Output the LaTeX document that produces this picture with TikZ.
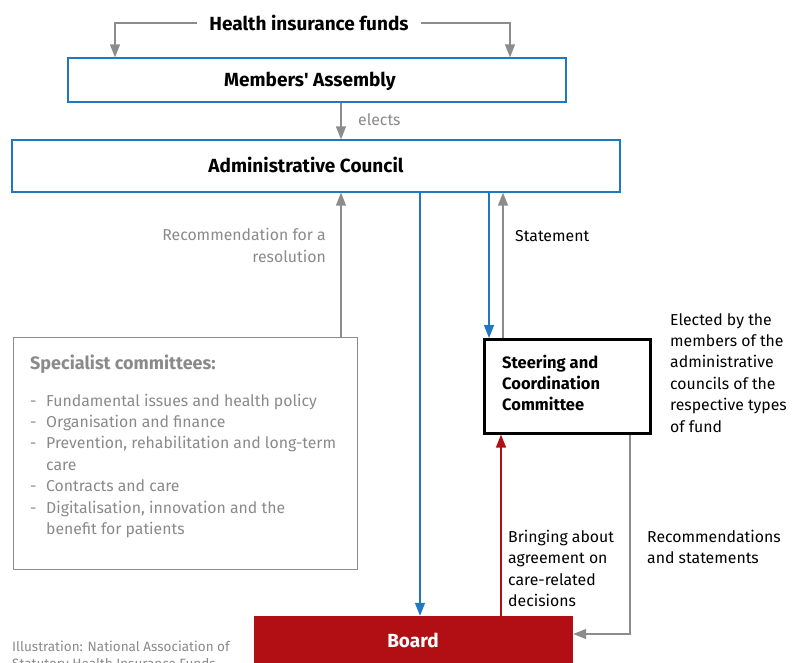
\documentclass[tikz,border=0pt]{standalone}
\usepackage{fontspec}
\setmainfont{Fira Sans}
\usetikzlibrary{arrows.meta,calc}
\definecolor{cblue}{HTML}{1F78C1}
\definecolor{cgray}{HTML}{8C8C8C}
\definecolor{ctext}{HTML}{8A8A8A}
\definecolor{cred}{HTML}{B10F14}
\begin{document}
\begin{tikzpicture}[x=1pt,y=-1pt,
  >={Triangle[length=13pt,width=10pt]},
  bluebox/.style={draw=cblue, line width=1.3pt, fill=white, inner sep=0pt},
  head/.style={font=\fontsize{19}{22}\selectfont\bfseries, inner sep=0pt},
  body/.style={font=\fontsize{15.8}{21.4}\selectfont, align=left, inner sep=0pt},
  bodyb/.style={font=\fontsize{16.5}{21}\selectfont\bfseries, align=left, inner sep=0pt},
  garrow/.style={draw=cgray, line width=1.4pt, ->},
  barrow/.style={draw=cblue, line width=1.4pt, ->},
  rarrow/.style={draw=cred, line width=1.4pt, ->},
]
\useasboundingbox (0,0) rectangle (798,662);
% x / y reference coordinates
\coordinate (xL) at (115,0);
\coordinate (xR) at (510,0);
\coordinate (xA) at (341,0);
\coordinate (xB) at (420,0);
\coordinate (xC) at (489,0);
\coordinate (xD) at (503,0);
\coordinate (xF) at (501,0);
\coordinate (xE) at (630,0);
\coordinate (yE) at (0,634);

% boxes
\node[bluebox, minimum width=498pt, minimum height=44pt] (ma) at (317,80) {};
\node[bluebox, minimum width=608pt, minimum height=52pt] (ac) at (316,166) {};
\node[draw=cgray, line width=1.3pt, minimum width=344pt, minimum height=232pt, anchor=north west, inner sep=0pt] (sc) at (13,337) {};
\node[draw=black, line width=2.6pt, minimum width=166pt, minimum height=94pt, anchor=north west, inner sep=0pt] (scc) at (483,338) {};
\node[fill=cred, minimum width=319pt, minimum height=50pt, inner sep=0pt] (board) at (413.5,641) {};

% texts
\node[head, anchor=base, fill=white, inner xsep=12pt] (hif) at (309,30.5) {Health insurance funds};
\node[head, anchor=base] (maT) at (310,86.5) {Members\textquotesingle\ Assembly};
\node[head, anchor=base] (acT) at (306,172.5) {Administrative Council};
\node[head, anchor=base, text=white] (boT) at (413,647.5) {Board};
\node[body, anchor=base west, text=ctext] (el) at (358,125) {elects};
\node[body, anchor=base east, align=right, text=ctext] (rec) at (326,262) {Recommendation for a\\resolution};
\node[body, anchor=base west] (st) at (515,241) {Statement};
\node[font=\fontsize{18}{21}\selectfont\bfseries, inner sep=0pt, anchor=base west, text=ctext] (scT) at (30,369.5) {Specialist committees:};
\node[body, anchor=base west, text=ctext] (scL) at (30,406) {\begin{tabular}[t]{@{}p{16pt}@{}l@{}}
- & Fundamental issues and health policy\\
- & Organisation and finance\\
- & Prevention, rehabilitation and long-term\\
  & care\\
- & Contracts and care\\
- & Digitalisation, innovation and the\\
  & benefit for patients
\end{tabular}};
\node[bodyb, anchor=base west] (sccT) at (502,410.5) {Steering and\\Coordination\\Committee};
\node[body, anchor=base west] (elT) at (670,432) {Elected by the\\members of the\\administrative\\councils of the\\respective types\\of fund};
\node[body, anchor=base west] (brT) at (508,606.7) {Bringing about\\agreement on\\care-related\\decisions};
\node[body, anchor=base west] (rsT) at (647,563.9) {Recommendations\\and statements};
\node[font=\fontsize{13.5}{17}\selectfont, text=ctext, anchor=base west, align=left, inner sep=0pt] (cred) at (12,668) {Illustration: National Association of\\Statutory Health Insurance Funds};

% connectors
\draw[garrow] (hif.west) -| (ma.north -| xL);
\draw[garrow] (hif.east) -| (ma.north -| xR);
\draw[garrow] (ma.south -| xA) -- (ac.north -| xA);
\draw[garrow] (sc.north -| xA) -- (ac.south -| xA);
\draw[barrow] (ac.south -| xB) -- (board.north -| xB);
\draw[barrow] (ac.south -| xC) -- (scc.north -| xC);
\draw[garrow] (scc.north -| xD) -- (ac.south -| xD);
\draw[rarrow] (board.north -| xF) -- (scc.south -| xF);
\draw[garrow] (scc.south -| xE) |- (board.east |- yE);
\end{tikzpicture}
\end{document}
